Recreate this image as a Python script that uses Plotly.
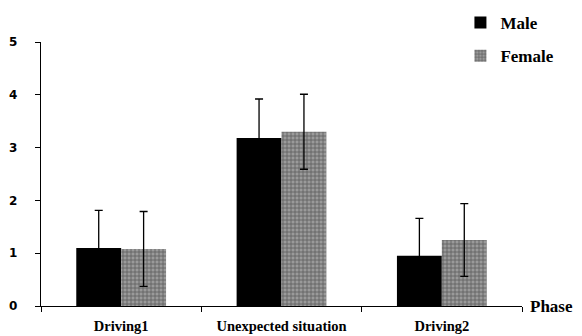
import plotly.graph_objects as go

phases = ["Driving1", "Unexpected situation", "Driving2"]
male = [1.1, 3.18, 0.95]
male_err = [0.71, 0.74, 0.71]
female = [1.08, 3.3, 1.25]
female_err = [0.71, 0.71, 0.69]
y_ticks = [0, 1, 2, 3, 4, 5]

serif = "Liberation Serif"

fig = go.Figure()
fig.add_trace(go.Bar(
    x=phases, y=male, name="Male", legendgroup="m",
    marker=dict(color="#000000", line=dict(width=0)),
    error_y=dict(type="data", array=male_err, color="#000000", thickness=1.3, width=4),
))
fig.add_trace(go.Bar(
    x=phases, y=female, name="Female", legendgroup="f",
    marker=dict(color="#8a8a8a", line=dict(width=0),
                pattern=dict(shape="+", fgcolor="#2a2a2a", bgcolor="#9a9a9a",
                             size=4, solidity=0.4)),
    error_y=dict(type="data", array=female_err, color="#000000", thickness=1.3, width=4),
))

fig.update_layout(
    width=582, height=336,
    margin=dict(l=41, r=60, t=42, b=30, autoexpand=False),
    paper_bgcolor="white", plot_bgcolor="white",
    barmode="group", bargap=0.44, bargroupgap=0,
    showlegend=True,
    legend=dict(x=0.872, xanchor="left", y=1.14, yanchor="top",
                font=dict(family=serif, size=17, color="black", weight="bold"),
                tracegroupgap=8, bgcolor="rgba(0,0,0,0)"),
    xaxis=dict(type="category", tickson="boundaries", ticks="outside", ticklen=5,
               tickcolor="black", showline=True, linecolor="black", linewidth=1.3,
               tickfont=dict(family=serif, size=14.5, color="black", weight="bold"),
               ticklabelstandoff=6, showgrid=False, range=[-0.5, 2.5]),
    yaxis=dict(range=[0, 5], tickvals=y_ticks, ticks="outside", ticklen=5,
               tickcolor="black", showline=True, linecolor="black", linewidth=1.3,
               tickfont=dict(family="DejaVu Sans", size=12, color="black", weight="bold"),
               ticklabelstandoff=15, showgrid=False, zeroline=False),
    annotations=[dict(text="Phase", x=1.0, xref="paper", y=0, yref="paper",
                      xanchor="left", yanchor="middle", xshift=6, showarrow=False,
                      font=dict(family=serif, size=17, color="black", weight="bold"))],
)

fig.write_html("out.html", config={"displayModeBar": False},
               post_script="document.body.style.margin='0';")
